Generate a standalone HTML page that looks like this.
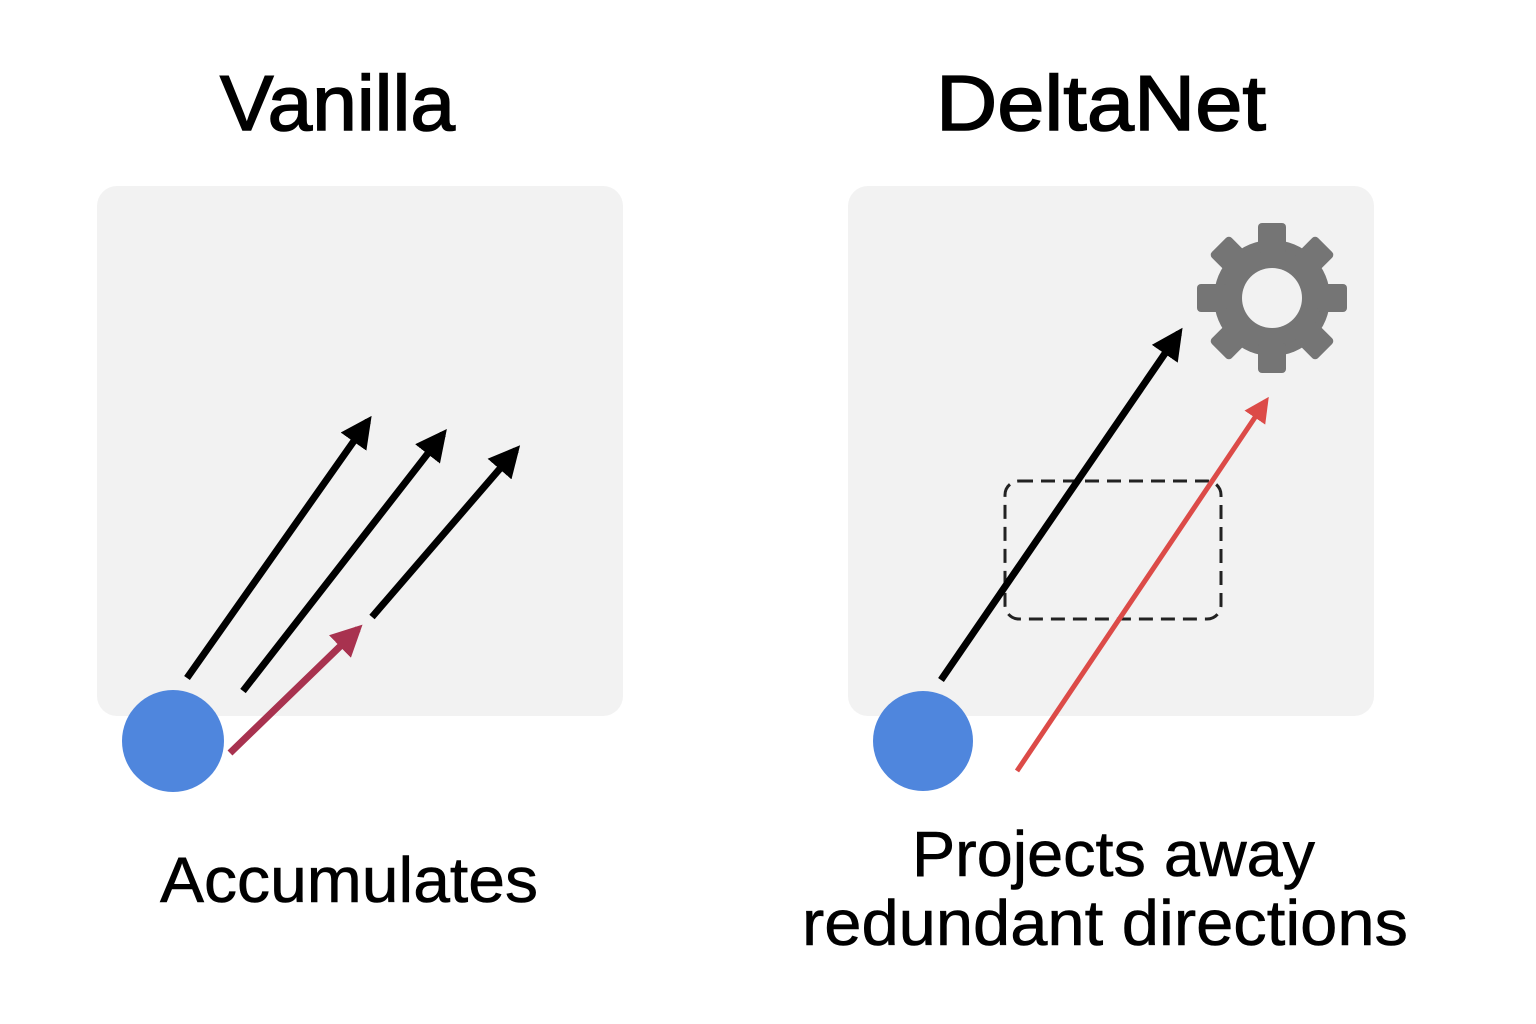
<!DOCTYPE html>
<html><head><meta charset="utf-8"><style>
html,body{margin:0;padding:0;background:#fff;}
svg{display:block;}
text{font-family:"Liberation Sans",sans-serif;fill:#000;}
</style></head><body>
<svg width="1536" height="1024" viewBox="0 0 1536 1024" xmlns="http://www.w3.org/2000/svg">
<defs>
<marker id="hb" viewBox="0 0 10 10" refX="8" refY="5" markerWidth="4.5" markerHeight="4.5" orient="auto" markerUnits="strokeWidth"><path d="M0,0 L10,5 L0,10 z" fill="#000"/></marker>
<marker id="hr" viewBox="0 0 10 10" refX="8" refY="5" markerWidth="4.5" markerHeight="4.5" orient="auto" markerUnits="strokeWidth"><path d="M0,0 L10,5 L0,10 z" fill="#a8324f"/></marker>
<marker id="hr2" viewBox="0 0 10 10" refX="8" refY="5" markerWidth="5" markerHeight="5" orient="auto" markerUnits="strokeWidth"><path d="M0,0 L10,5 L0,10 z" fill="#dc4b48"/></marker>
</defs>
<text x="220" y="130" font-size="78" stroke="#000" stroke-width="1.5" textLength="235" lengthAdjust="spacingAndGlyphs">Vanilla</text>
<text x="936" y="130" font-size="78" stroke="#000" stroke-width="1.5" textLength="330" lengthAdjust="spacingAndGlyphs">DeltaNet</text>
<rect x="97" y="186" width="526" height="530" rx="20" fill="#f2f2f2"/>
<rect x="848" y="186" width="526" height="530" rx="20" fill="#f2f2f2"/>
<line x1="187" y1="678" x2="368" y2="421" stroke="#000" stroke-width="7" marker-end="url(#hb)"/>
<line x1="243" y1="691" x2="443" y2="434" stroke="#000" stroke-width="7" marker-end="url(#hb)"/>
<line x1="372" y1="617" x2="516" y2="450" stroke="#000" stroke-width="7" marker-end="url(#hb)"/>
<line x1="230" y1="753" x2="358" y2="629" stroke="#a8324f" stroke-width="7" marker-end="url(#hr)"/>
<circle cx="173" cy="741" r="51" fill="#4f86dd"/>
<rect x="1005" y="481" width="216" height="138" rx="14" fill="none" stroke="#222" stroke-width="3" stroke-dasharray="14,8"/>
<line x1="941" y1="680" x2="1179" y2="333" stroke="#000" stroke-width="7" marker-end="url(#hb)"/>
<line x1="1017" y1="771" x2="1266" y2="401" stroke="#dc4b48" stroke-width="5" marker-end="url(#hr2)"/>
<circle cx="923" cy="741" r="50" fill="#4f86dd"/>
<g transform="translate(1272,298)" fill="#757575">
<circle r="58"/>
<g id="t"><rect x="-14" y="-75" width="28" height="30" rx="4"/></g>
<use href="#t" transform="rotate(45)"/><use href="#t" transform="rotate(90)"/><use href="#t" transform="rotate(135)"/>
<use href="#t" transform="rotate(180)"/><use href="#t" transform="rotate(225)"/><use href="#t" transform="rotate(270)"/><use href="#t" transform="rotate(315)"/>
<circle r="30" fill="#f2f2f2"/>
</g>
<text x="160" y="902" font-size="64" stroke="#000" stroke-width="0.6" textLength="378" lengthAdjust="spacingAndGlyphs">Accumulates</text>
<text x="912" y="876" font-size="64" stroke="#000" stroke-width="0.6" textLength="403" lengthAdjust="spacingAndGlyphs">Projects away</text>
<text x="802" y="945" font-size="64" stroke="#000" stroke-width="0.6" textLength="606" lengthAdjust="spacingAndGlyphs">redundant directions</text>
</svg>
</body></html>
